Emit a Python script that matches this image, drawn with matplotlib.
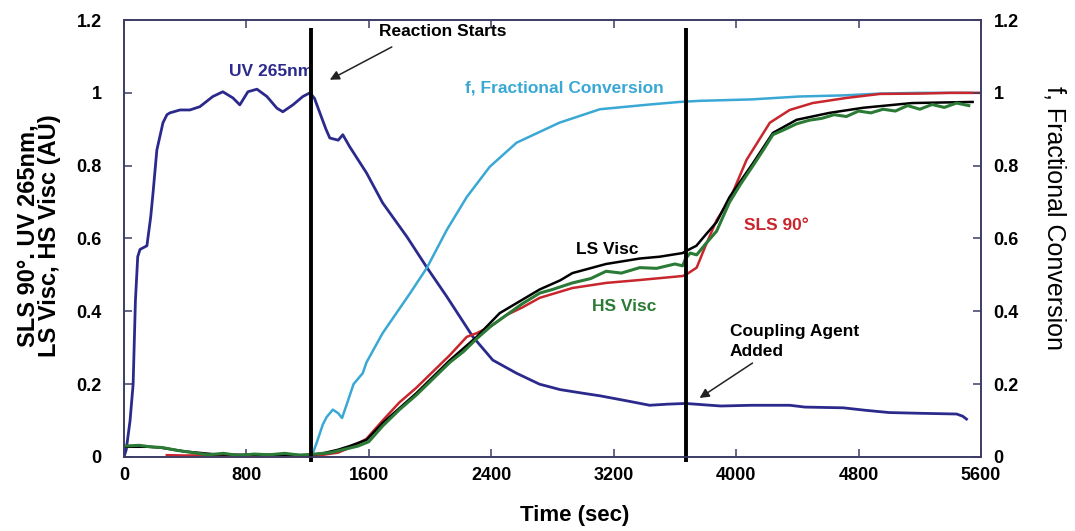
import matplotlib
matplotlib.use("Agg")
import matplotlib.pyplot as plt

plt.rcParams['font.family'] = ['Liberation Sans', 'DejaVu Sans']

# ---- series data (time in sec, signal in AU) ----
uv_t = [0, 15, 40, 60, 75, 90, 105, 150, 175, 190,
        215, 255, 281, 300, 366, 431, 496, 581, 646, 712,
        757, 810, 869, 934, 999, 1038, 1104, 1169, 1215, 1245,
        1280, 1320, 1345, 1400, 1430, 1475, 1585, 1690, 1850, 1980,
        2110, 2280, 2410, 2565, 2715, 2850, 3000, 3110, 3300, 3435,
        3550, 3670, 3800, 3900, 4100, 4350, 4450, 4700, 4850, 5000,
        5200, 5440, 5480, 5505]
uv_v = [0, 0.02, 0.1, 0.2, 0.43, 0.55, 0.57, 0.58, 0.66, 0.725,
        0.843, 0.918, 0.94, 0.945, 0.953, 0.953, 0.962, 0.99, 1.003, 0.986,
        0.967, 1.003, 1.01, 0.99, 0.958, 0.948, 0.967, 0.99, 1.0, 0.985,
        0.945, 0.9, 0.876, 0.87, 0.885, 0.852, 0.78, 0.698, 0.604, 0.52,
        0.44, 0.33, 0.266, 0.23, 0.2, 0.185, 0.175, 0.168, 0.153, 0.142,
        0.145, 0.147, 0.143, 0.14, 0.142, 0.142, 0.137, 0.135, 0.128, 0.122,
        0.12, 0.118, 0.112, 0.104]

f_t = [1225, 1260, 1300, 1325, 1365, 1400, 1425, 1460, 1500, 1560,
       1585, 1690, 1870, 1980, 2110, 2240, 2390, 2565, 2845, 3110,
       3435, 3630, 3760, 4100, 4415, 4700, 4940, 5200, 5500, 5540]
f_v = [0, 0.04, 0.09, 0.11, 0.13, 0.12, 0.107, 0.15, 0.2, 0.23,
       0.26, 0.34, 0.45, 0.52, 0.624, 0.714, 0.797, 0.863, 0.918, 0.955,
       0.968, 0.975, 0.978, 0.982, 0.99, 0.993, 0.998, 1.0, 1.0, 1.0]

ls_t = [0, 170, 250, 400, 600, 800, 1000, 1200, 1300, 1400,
        1475, 1585, 1690, 1910, 2130, 2305, 2455, 2716, 2850, 2930,
        3150, 3370, 3500, 3650, 3670, 3740, 3800, 3872, 3957, 4110,
        4240, 4395, 4610, 4830, 5150, 5545]
ls_v = [0.028, 0.028, 0.025, 0.015, 0.007, 0.006, 0.006, 0.005, 0.01, 0.02,
        0.03, 0.047, 0.093, 0.175, 0.266, 0.33, 0.395, 0.46, 0.485, 0.505,
        0.53, 0.545, 0.55, 0.56, 0.565, 0.58, 0.61, 0.645, 0.714, 0.807,
        0.89, 0.926, 0.945, 0.959, 0.972, 0.975]

hs_t = [0, 100, 170, 250, 350, 450, 550, 650, 750, 850,
        950, 1050, 1150, 1250, 1350, 1450, 1530, 1600, 1690, 1800,
        1910, 2020, 2130, 2220, 2305, 2400, 2500, 2600, 2716, 2800,
        2930, 3050, 3150, 3250, 3370, 3480, 3600, 3650, 3670, 3700,
        3742, 3800, 3872, 3957, 4030, 4110, 4180, 4240, 4320, 4395,
        4480, 4560, 4640, 4720, 4800, 4880, 4960, 5040, 5120, 5200,
        5280, 5360, 5440, 5520]
hs_v = [0.03, 0.032, 0.028, 0.026, 0.018, 0.012, 0.006, 0.01, 0.004, 0.008,
        0.006, 0.01, 0.005, 0.008, 0.012, 0.022, 0.03, 0.042, 0.085, 0.13,
        0.17, 0.215, 0.26, 0.29, 0.325, 0.36, 0.39, 0.42, 0.45, 0.46,
        0.478, 0.49, 0.51, 0.505, 0.52, 0.518, 0.53, 0.525, 0.545, 0.56,
        0.555, 0.585, 0.62, 0.7, 0.75, 0.8, 0.845, 0.885, 0.9, 0.915,
        0.925, 0.93, 0.94, 0.935, 0.95, 0.945, 0.955, 0.95, 0.965, 0.955,
        0.968, 0.96, 0.972, 0.965]

sls_t = [280, 400, 600, 800, 1000, 1200, 1300, 1400, 1500, 1585,
         1690, 1800, 1910, 2020, 2130, 2240, 2305, 2400, 2500, 2600,
         2716, 2930, 3150, 3370, 3650, 3670, 3742, 3800, 3872, 3957,
         4068, 4220, 4350, 4500, 4720, 4940, 5200, 5400, 5600]
sls_v = [0.005, 0.004, 0.005, 0.004, 0.005, 0.004, 0.006, 0.012, 0.03, 0.05,
         0.1, 0.15, 0.19, 0.235, 0.28, 0.33, 0.34, 0.36, 0.39, 0.41,
         0.437, 0.464, 0.478, 0.486, 0.497, 0.5, 0.52, 0.58, 0.65, 0.706,
         0.816, 0.918, 0.953, 0.972, 0.986, 0.997, 0.998, 1.0, 1.0]

events_t = [1225, 3670]   # reaction start, coupling agent added

x_ticks = [0, 800, 1600, 2400, 3200, 4000, 4800, 5600]
y_ticks = [0, 0.2, 0.4, 0.6, 0.8, 1.0, 1.2]
y_labels = ["0", "0.2", "0.4", "0.6", "0.8", "1", "1.2"]

# ---- colours ----
c_uv = "#2b2a8c"
c_f = "#3aa8d4"
c_ls = "#000000"
c_hs = "#2b7a35"
c_sls = "#c8262c"
c_spine = "#3c3c66"

fig = plt.figure(figsize=(10.75, 5.31), dpi=100)
ax = fig.add_axes([0.1153, 0.1394, 0.7973, 0.8229])

ax.plot(uv_t, uv_v, color=c_uv, lw=2.0, zorder=3)
ax.plot(f_t, f_v, color=c_f, lw=1.8, zorder=3)
ax.plot(sls_t, sls_v, color=c_sls, lw=1.8, zorder=4)
ax.plot(ls_t, ls_v, color=c_ls, lw=1.8, zorder=5)
ax.plot(hs_t, hs_v, color=c_hs, lw=2.2, zorder=6)

for t in events_t:
    ax.plot([t, t], [-0.014, 1.178], color="black", lw=2.8, zorder=8,
            clip_on=False, solid_capstyle="butt")

ax.set_xlim(0, 5600)
ax.set_ylim(0, 1.2)
ax.set_xticks(x_ticks)
ax.set_xticklabels([str(v) for v in x_ticks])
ax.set_yticks(y_ticks)
ax.set_yticklabels(y_labels)

ax2 = ax.twinx()
ax2.set_ylim(0, 1.2)
ax2.set_yticks(y_ticks)
ax2.set_yticklabels(y_labels)

for a in (ax, ax2):
    for s in a.spines.values():
        s.set_color(c_spine)
        s.set_linewidth(1.2)

ax.tick_params(axis="x", direction="in", length=6, width=1.1, color=c_spine,
               top=True, pad=7, labelsize=13)
ax.tick_params(axis="y", direction="in", length=6, width=1.1, color=c_spine,
               pad=16, labelsize=13)
ax2.tick_params(axis="y", direction="in", length=6, width=1.1, color=c_spine,
                pad=9, labelsize=13)
for lbl in ax.get_xticklabels() + ax.get_yticklabels() + ax2.get_yticklabels():
    lbl.set_fontweight("bold")

# axis titles
fig.text(575 / 1075, 1 - 516 / 531, "Time (sec)", fontsize=16,
         fontweight="bold", ha="center", va="center")
fig.text(28 / 1075, 1 - 236 / 531, "SLS 90°. UV 265nm,", fontsize=17,
         fontweight="bold", rotation=90, ha="center", va="center")
fig.text(50 / 1075, 1 - 236 / 531, "LS Visc, HS Visc (AU)", fontsize=17,
         fontweight="bold", rotation=90, ha="center", va="center")
fig.text(1055 / 1075, 1 - 218 / 531, "f, Fractional Conversion", fontsize=18,
         rotation=270, ha="center", va="center")

# ---- curve labels and annotations ----
lab = dict(fontsize=12.5, fontweight="bold", ha="center", va="center")
ax.text(960, 1.058, "UV 265nm", color=c_uv, zorder=7, **lab)
ax.text(2875, 1.014, "f, Fractional Conversion", color=c_f, **lab)
ax.text(3160, 0.569, "LS Visc", color=c_ls, **lab)
ax.text(3270, 0.412, "HS Visc", color=c_hs, **lab)
ax.text(4260, 0.637, "SLS 90°", color=c_sls, **lab)
ax.text(2085, 1.168, "Reaction Starts", color="black", **lab)
ax.text(3960, 0.318, "Coupling Agent\nAdded", color="black", linespacing=1.4,
        fontsize=12.5, fontweight="bold", ha="left", va="center")

arrow = dict(arrowstyle="-|>", color="#222222", lw=1.1, shrinkA=0, shrinkB=0,
             mutation_scale=14)
ax.annotate("", xy=(1345, 1.036), xytext=(1750, 1.126), arrowprops=arrow)
ax.annotate("", xy=(3761, 0.162), xytext=(4107, 0.258), arrowprops=arrow)

fig.savefig("out.png", dpi=100)
